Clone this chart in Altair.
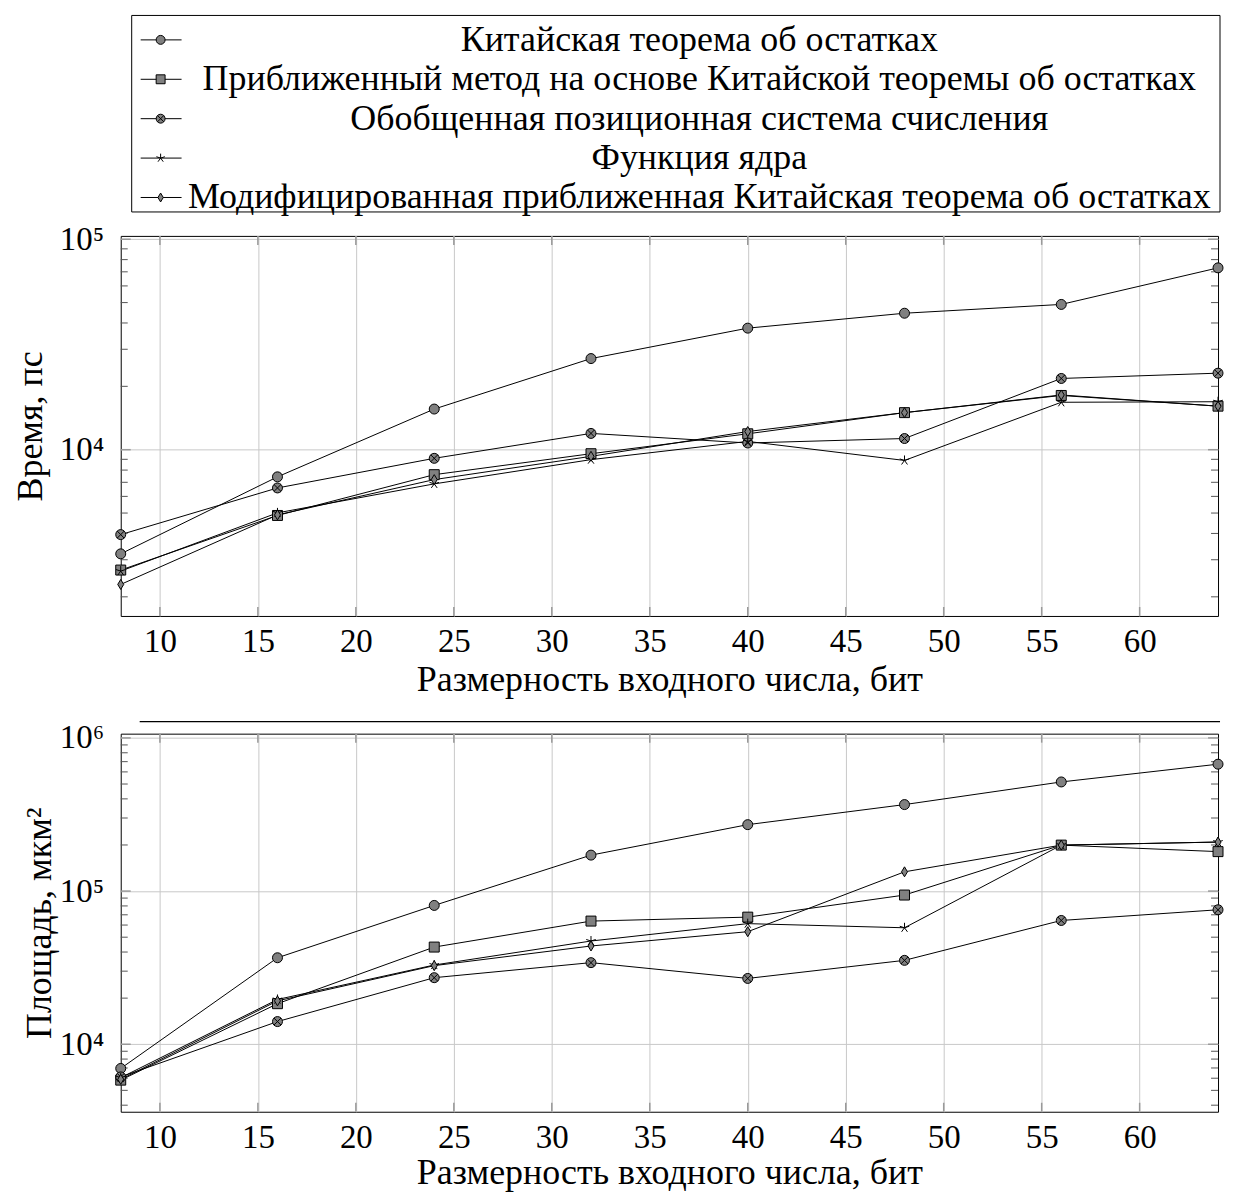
import altair as alt
import pandas as pd

# ---------------- data ----------------
x_bits = [8, 16, 24, 32, 40, 48, 56, 64]

series_names = [
    "Китайская теорема об остатках",
    "Приближенный метод на основе Китайской теоремы об остатках",
    "Обобщенная позиционная система счисления",
    "Функция ядра",
    "Модифицированная приближенная Китайская теорема об остатках",
]

# time, ps
time_crt = [3200, 7430, 15600, 27100, 37800, 44500, 49000, 73100]
time_approx = [2680, 4870, 7610, 9570, 11900, 15000, 18100, 16100]
time_ops = [3950, 6580, 9100, 11950, 10760, 11300, 21800, 23100]
time_kernel = [2650, 5010, 6880, 8970, 10950, 8890, 16800, 16900]
time_mod = [2290, 4900, 7210, 9300, 12200, 15000, 18200, 16100]

# area, um^2
area_crt = [6950, 36700, 80600, 171700, 271500, 367100, 515900, 673900]
area_approx = [5830, 18400, 43100, 63700, 67600, 94200, 199600, 181000]
area_ops = [6120, 14060, 27200, 34100, 26900, 35300, 64300, 75500]
area_kernel = [6050, 19600, 32900, 47200, 61300, 57600, 199600, 209000]
area_mod = [5900, 19200, 32600, 43800, 54300, 133600, 199600, 209000]

x_ticks = [10, 15, 20, 25, 30, 35, 40, 45, 50, 55, 60]
time_major = [1e4, 1e5]
time_minor = [2000, 3000, 4000, 5000, 6000, 7000, 8000, 9000,
              20000, 30000, 40000, 50000, 60000, 70000, 80000, 90000]
area_major = [1e4, 1e5, 1e6]
area_minor = [4000, 5000, 6000, 7000, 8000, 9000,
              20000, 30000, 40000, 50000, 60000, 70000, 80000, 90000,
              200000, 300000, 400000, 500000, 600000, 700000, 800000, 900000]

x_title = "Размерность входного числа, бит"
time_title = "Время, пс"
area_title = "Площадь, мкм²"

# ---------------- styling ----------------
FONT = "Liberation Serif"
OTIMES = "M1,0A1,1,0,1,1,-1,0A1,1,0,1,1,1,0ZM-0.7071,-0.7071L0.7071,0.7071M-0.7071,0.7071L0.7071,-0.7071"
STAR = "M0,0L0,-1M0,0L0.951,-0.309M0,0L0.588,0.809M0,0L-0.588,0.809M0,0L-0.951,-0.309"
DIAMOND = "M0,-1L0.6,0L0,1L-0.6,0Z"
marker_shapes = ["circle", "square", OTIMES, STAR, DIAMOND]
marker_fills = ["#808080", "#808080", "#808080", "transparent", "#808080"]

W = 1100
H_TOP = 381
H_BOT = 379
LEG_H = 103


def long_df(cols):
    rows = []
    for name, vals in zip(series_names, cols):
        for b, v in zip(x_bits, vals):
            rows.append({"series": name, "bits": b, "val": v})
    return pd.DataFrame(rows)


shape_enc = alt.Shape("series:N", scale=alt.Scale(domain=series_names, range=marker_shapes), legend=None)
fill_enc = alt.Fill("series:N", scale=alt.Scale(domain=series_names, range=marker_fills), legend=None)


def make_plot(df, domain, major, minor, ytitle, title_x, height, title_y, extra=None):
    xscale = alt.Scale(domain=[8, 64], nice=False, zero=False)
    yscale = alt.Scale(type="log", domain=domain, nice=False)
    label_expr = ("datum.value > 500000 ? '10⁶' : datum.value > 50000 ? '10⁵' : "
                  "datum.value > 5000 ? '10⁴' : '10³'")
    xax = alt.Axis(values=x_ticks, grid=True, ticks=False, domain=False, labelPadding=10,
                   title=x_title, titleY=title_y, titleBaseline="alphabetic", labelFlush=False)
    yax = alt.Axis(values=major, grid=True, ticks=False, domain=False, labelPadding=17,
                   labelExpr=label_expr, title=ytitle, titleX=title_x, titleAngle=270,
                   titleBaseline="alphabetic")
    X = lambda: alt.X("bits:Q", scale=xscale, axis=xax)
    Y = lambda: alt.Y("val:Q", scale=yscale, axis=yax)

    lines = alt.Chart(df).mark_line(color="black", strokeWidth=1, clip=True).encode(
        x=X(), y=Y(), detail="series:N")
    pts = alt.Chart(df).mark_point(filled=True, stroke="black", strokeWidth=1, opacity=1,
                                   size=100).encode(
        x=X(), y=Y(), shape=shape_enc, fill=fill_enc)
    minor_df = pd.DataFrame({"val": minor})
    major_df = pd.DataFrame({"val": major})
    xt_df = pd.DataFrame({"bits": x_ticks})
    ymin_l = alt.Chart(minor_df).mark_rule(color="#555555", strokeWidth=1).encode(
        y=Y(), x=alt.value(0), x2=alt.value(7))
    ymin_r = alt.Chart(minor_df).mark_rule(color="#555555", strokeWidth=1).encode(
        y=Y(), x=alt.value(W - 7), x2=alt.value(W))
    ymaj_l = alt.Chart(major_df).mark_rule(color="#999999", strokeWidth=1.5).encode(
        y=Y(), x=alt.value(0), x2=alt.value(10))
    ymaj_r = alt.Chart(major_df).mark_rule(color="#999999", strokeWidth=1.5).encode(
        y=Y(), x=alt.value(W - 10), x2=alt.value(W))
    xt_b = alt.Chart(xt_df).mark_rule(color="#999999", strokeWidth=1.5).encode(
        x=X(), y=alt.value(height), y2=alt.value(height - 9))
    xt_t = alt.Chart(xt_df).mark_rule(color="#999999", strokeWidth=1.5).encode(
        x=X(), y=alt.value(0), y2=alt.value(9))
    layers = [lines, ymin_l, ymin_r, ymaj_l, ymaj_r, xt_b, xt_t, pts]
    if extra is not None:
        layers.append(extra)
    return alt.layer(*layers).properties(width=W, height=height)


one_row = pd.DataFrame({"k": [0]})

# separator line (empty legend box of the lower plot)
separator = alt.Chart(one_row).mark_rule(color="black", strokeWidth=1.2).encode(
    x=alt.value(19), x2=alt.value(1102), y=alt.value(487))

top = make_plot(long_df([time_crt, time_approx, time_ops, time_kernel, time_mod]),
                [1622, 103700], time_major, time_minor, time_title, -79, H_TOP, 75,
                extra=separator)
bottom = make_plot(long_df([area_crt, area_approx, area_ops, area_kernel, area_mod]),
                   [3625, 1066000], area_major, area_minor, area_title, -70, H_BOT, 72)

# ---------------- legend ----------------
legend_df = pd.DataFrame({"series": series_names, "row": list(range(len(series_names)))})
ly = alt.Y("row:Q", scale=alt.Scale(domain=[0, 4], range=[24.5, 182.5], nice=False, zero=False),
           axis=None)
leg_box = alt.Chart(one_row).mark_rect(fill="transparent", stroke="black", strokeWidth=1).encode(
    x=alt.value(11), x2=alt.value(1102), y=alt.value(0), y2=alt.value(197))
leg_lines = alt.Chart(legend_df).mark_rule(color="black", strokeWidth=1).encode(
    x=alt.value(20), x2=alt.value(61), y=ly)
leg_pts = alt.Chart(legend_df).mark_point(filled=True, stroke="black", strokeWidth=1, opacity=1,
                                          size=80).encode(
    x=alt.value(40), y=ly, shape=shape_enc, fill=fill_enc)
leg_text = alt.Chart(legend_df).mark_text(align="center", baseline="middle", font=FONT,
                                          fontSize=36, color="black").encode(
    x=alt.value(580), y=ly, text="series:N")
legend = alt.layer(leg_box, leg_lines, leg_pts, leg_text).properties(
    width=W, height=LEG_H, view=alt.ViewBackground(stroke="transparent"))

chart = alt.vconcat(legend, top, bottom, spacing=118, bounds="flush").properties(
    padding={"left": 4, "top": 5, "right": 0, "bottom": 0}
).configure_view(stroke="black", strokeWidth=1).configure_axis(
    labelFont=FONT, titleFont=FONT, labelFontSize=33, titleFontSize=36,
    labelColor="black", titleColor="black", titleFontWeight="normal",
    gridColor="#c8c8c8", gridWidth=1,
)

chart.save("out.html", embed_options={"renderer": "svg", "actions": False})
